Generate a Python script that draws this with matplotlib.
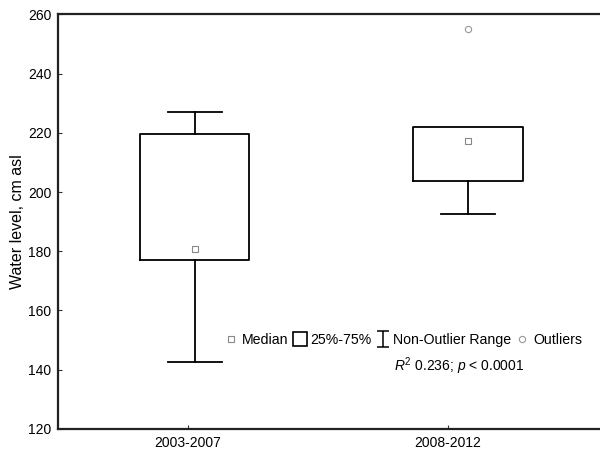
import numpy as np
import matplotlib.pyplot as plt
from matplotlib.lines import Line2D
from matplotlib.path import Path

plt.rcParams['font.family'] = ['Liberation Sans', 'DejaVu Sans']
plt.rcParams['mathtext.fontset'] = 'custom'
plt.rcParams['mathtext.rm'] = 'Liberation Sans'
plt.rcParams['mathtext.it'] = 'Liberation Sans:italic'

# Summary statistics per period (cm asl)
periods = ['2003-2007', '2008-2012']
medians = [180.9, 217.4]
q1 = [177.1, 203.8]
q3 = [219.6, 221.9]
whisker_low = [142.7, 192.5]
whisker_high = [226.9, 221.9]
outliers = [[], [255.0]]

fig = plt.figure(figsize=(6, 4.5), dpi=100)
ax = fig.add_axes([0.097, 0.047, 0.953, 0.921])

stats = []
for i in range(len(periods)):
    stats.append({'med': medians[i], 'q1': q1[i], 'q3': q3[i],
                  'whislo': whisker_low[i], 'whishi': whisker_high[i],
                  'fliers': outliers[i], 'label': periods[i]})

positions = [1.026, 2.077]
bp = ax.bxp(stats, positions=positions, widths=0.42, showcaps=True,
            showfliers=True, manage_ticks=False,
            boxprops=dict(color='black', linewidth=1.3),
            whiskerprops=dict(color='black', linewidth=1.3),
            capprops=dict(color='black', linewidth=1.3),
            medianprops=dict(linewidth=0),
            flierprops=dict(marker='o', markersize=4.5, markerfacecolor='none',
                            markeredgecolor='#999999', markeredgewidth=0.8))
# no upper whisker when it coincides with the box top
for i in range(len(periods)):
    if whisker_high[i] <= q3[i]:
        bp['caps'][2 * i + 1].set_visible(False)
        bp['whiskers'][2 * i + 1].set_visible(False)

ax.plot(positions, medians, linestyle='none', marker='s', markersize=5,
        markerfacecolor='none', markeredgecolor='#888888', markeredgewidth=0.8)

ax.set_xlim(0.5, 2.7)
ax.set_ylim(120, 260)
ax.set_xticks([1, 2])
ax.set_xticklabels(periods, fontsize=10)
ax.set_yticks(np.arange(120, 261, 20))
ax.tick_params(axis='both', direction='in', length=3, labelsize=10, pad=5,
               color='#333333')
ax.set_ylabel('Water level, cm asl', fontsize=11.5, labelpad=2)
for s in ax.spines.values():
    s.set_linewidth(1.6)
    s.set_color('#222222')

# legend with a whisker-shaped marker
whisker_path = Path([(-0.75, 1), (0.75, 1), (0, 1), (0, -1), (-0.75, -1), (0.75, -1)],
                    [Path.MOVETO, Path.LINETO, Path.MOVETO, Path.LINETO,
                     Path.MOVETO, Path.LINETO])
handles = [
    Line2D([], [], linestyle='none', marker='s', markersize=5,
           markerfacecolor='none', markeredgecolor='#888888', markeredgewidth=0.8),
    Line2D([], [], linestyle='none', marker='s', markersize=9.5,
           markerfacecolor='none', markeredgecolor='black', markeredgewidth=1.2),
    Line2D([], [], linestyle='none', marker=whisker_path, markersize=11,
           markerfacecolor='none', markeredgecolor='black', markeredgewidth=1.1),
    Line2D([], [], linestyle='none', marker='o', markersize=4.5,
           markerfacecolor='none', markeredgecolor='#999999', markeredgewidth=0.8),
]
labels = ['Median', '25%-75%', 'Non-Outlier Range', 'Outliers']
ax.legend(handles, labels, ncol=4, frameon=False, fontsize=10.2,
          handlelength=0.8, handletextpad=0.35, columnspacing=0.38,
          loc='center left', bbox_to_anchor=(0.293, 0.215),
          borderaxespad=0, borderpad=0)

ax.text(0.702, 0.152, r'$R^2$ 0.236; $p$ < 0.0001', transform=ax.transAxes,
        fontsize=10, ha='center', va='center')

fig.savefig('out.png', dpi=100)
